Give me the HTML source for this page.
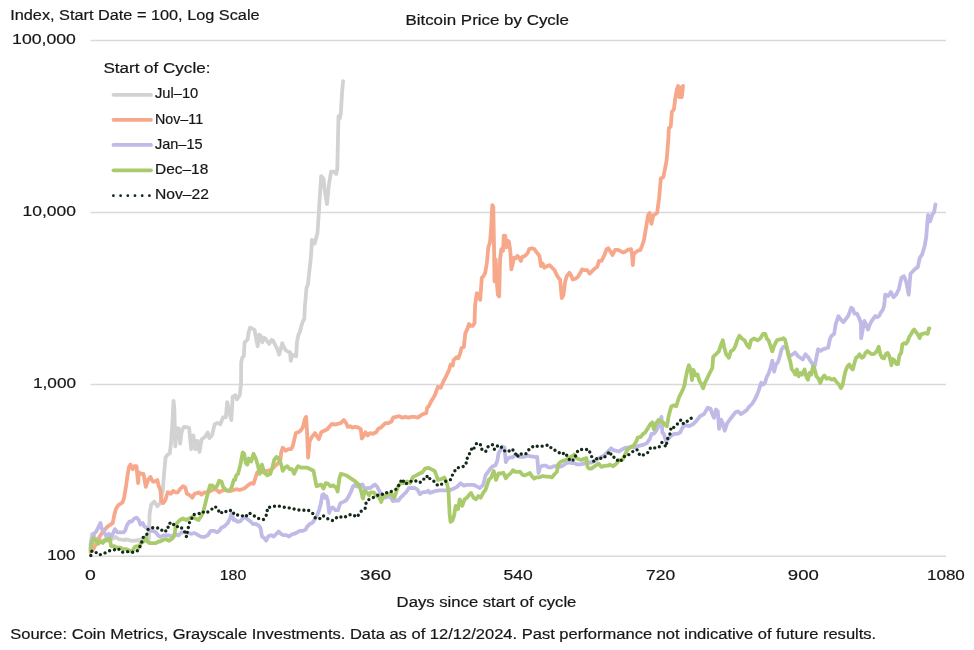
<!DOCTYPE html>
<html><head><meta charset="utf-8"><title>Bitcoin Price by Cycle</title>
<style>html,body{margin:0;padding:0;background:#fff;}body{width:974px;height:650px;overflow:hidden;font-family:"Liberation Sans", sans-serif;}svg{display:block;will-change:transform;}</style>
</head><body>
<svg width="974" height="650" viewBox="0 0 974 650" font-family='"Liberation Sans", sans-serif'>
<line x1="90.5" y1="40.5" x2="946.0" y2="40.5" stroke="#d9d9d9" stroke-width="1.5"/>
<line x1="90.5" y1="212.6" x2="946.0" y2="212.6" stroke="#d9d9d9" stroke-width="1.5"/>
<line x1="90.5" y1="384.4" x2="946.0" y2="384.4" stroke="#d9d9d9" stroke-width="1.5"/>
<line x1="90.5" y1="556.2" x2="946.0" y2="556.2" stroke="#d9d9d9" stroke-width="1.5"/>
<text x="10.2" y="20.1" font-size="15.3" text-anchor="start" textLength="249.4" lengthAdjust="spacingAndGlyphs" fill="#161616" stroke="#161616" stroke-width="0.2">Index, Start Date = 100, Log Scale</text>
<text x="405.4" y="25.1" font-size="14.2" text-anchor="start" textLength="163.6" lengthAdjust="spacingAndGlyphs" fill="#161616" stroke="#161616" stroke-width="0.2">Bitcoin Price by Cycle</text>
<text x="75.9" y="44.1" font-size="15.3" text-anchor="end" textLength="63.8" lengthAdjust="spacingAndGlyphs" fill="#161616" stroke="#161616" stroke-width="0.2">100,000</text>
<text x="76" y="216.2" font-size="15.3" text-anchor="end" textLength="53.4" lengthAdjust="spacingAndGlyphs" fill="#161616" stroke="#161616" stroke-width="0.2">10,000</text>
<text x="76" y="388.0" font-size="15.3" text-anchor="end" textLength="43" lengthAdjust="spacingAndGlyphs" fill="#161616" stroke="#161616" stroke-width="0.2">1,000</text>
<text x="75.4" y="559.8" font-size="15.3" text-anchor="end" textLength="28.2" lengthAdjust="spacingAndGlyphs" fill="#161616" stroke="#161616" stroke-width="0.2">100</text>
<text x="90.4" y="580.2" font-size="15.3" text-anchor="middle" textLength="10.8" lengthAdjust="spacingAndGlyphs" fill="#161616" stroke="#161616" stroke-width="0.2">0</text>
<text x="233.0" y="580.2" font-size="15.3" text-anchor="middle" textLength="26.5" lengthAdjust="spacingAndGlyphs" fill="#161616" stroke="#161616" stroke-width="0.2">180</text>
<text x="375.6" y="580.2" font-size="15.3" text-anchor="middle" textLength="31.2" lengthAdjust="spacingAndGlyphs" fill="#161616" stroke="#161616" stroke-width="0.2">360</text>
<text x="518.1" y="580.2" font-size="15.3" text-anchor="middle" textLength="29.2" lengthAdjust="spacingAndGlyphs" fill="#161616" stroke="#161616" stroke-width="0.2">540</text>
<text x="660.7" y="580.2" font-size="15.3" text-anchor="middle" textLength="29.2" lengthAdjust="spacingAndGlyphs" fill="#161616" stroke="#161616" stroke-width="0.2">720</text>
<text x="803.3" y="580.2" font-size="15.3" text-anchor="middle" textLength="31.0" lengthAdjust="spacingAndGlyphs" fill="#161616" stroke="#161616" stroke-width="0.2">900</text>
<text x="945.9" y="580.2" font-size="15.3" text-anchor="middle" textLength="37.9" lengthAdjust="spacingAndGlyphs" fill="#161616" stroke="#161616" stroke-width="0.2">1080</text>
<text x="396.6" y="607" font-size="15.2" text-anchor="start" textLength="179.8" lengthAdjust="spacingAndGlyphs" fill="#161616" stroke="#161616" stroke-width="0.2">Days since start of cycle</text>
<text x="10.2" y="639.0" font-size="15.3" text-anchor="start" textLength="866" lengthAdjust="spacingAndGlyphs" fill="#161616" stroke="#161616" stroke-width="0.2">Source: Coin Metrics, Grayscale Investments. Data as of 12/12/2024. Past performance not indicative of future results.</text>
<text x="103.4" y="72.5" font-size="14" text-anchor="start" textLength="107" lengthAdjust="spacingAndGlyphs" fill="#161616" stroke="#161616" stroke-width="0.2">Start of Cycle:</text>
<line x1="113.5" y1="94.8" x2="151" y2="94.8" stroke="#d2d2d2" stroke-width="3.8" stroke-linecap="round"/>
<text x="155" y="98" font-size="14.2" text-anchor="start" textLength="43.3" lengthAdjust="spacingAndGlyphs" fill="#161616" stroke="#161616" stroke-width="0.2">Jul–10</text>
<line x1="113.5" y1="119.8" x2="151" y2="119.8" stroke="#f7a88b" stroke-width="3.8" stroke-linecap="round"/>
<text x="155" y="123.5" font-size="14.2" text-anchor="start" textLength="48.1" lengthAdjust="spacingAndGlyphs" fill="#161616" stroke="#161616" stroke-width="0.2">Nov–11</text>
<line x1="113.5" y1="144.9" x2="151" y2="144.9" stroke="#c0bae6" stroke-width="3.8" stroke-linecap="round"/>
<text x="155" y="148.7" font-size="14.2" text-anchor="start" textLength="47.5" lengthAdjust="spacingAndGlyphs" fill="#161616" stroke="#161616" stroke-width="0.2">Jan–15</text>
<line x1="113.5" y1="170.3" x2="151" y2="170.3" stroke="#aacb6c" stroke-width="3.8" stroke-linecap="round"/>
<text x="155" y="174" font-size="14.2" text-anchor="start" textLength="53.3" lengthAdjust="spacingAndGlyphs" fill="#161616" stroke="#161616" stroke-width="0.2">Dec–18</text>
<line x1="113.4" y1="195.7" x2="150" y2="195.7" stroke="#142a18" stroke-width="2.8" stroke-linecap="round" stroke-dasharray="0 7.2"/>
<text x="155" y="199" font-size="14.2" text-anchor="start" textLength="53.9" lengthAdjust="spacingAndGlyphs" fill="#161616" stroke="#161616" stroke-width="0.2">Nov–22</text>
<polyline points="90.5,545.0 92.0,534.0 95.0,538.0 100.0,540.0 106.0,541.0 112.0,539.0 115.8,536.9 118.8,539.2 123.5,540.0 127.0,539.5 131.2,540.8 136.0,540.5 140.4,540.0 143.5,538.0 146.5,540.8 148.8,540.0 149.6,513.8 151.2,504.6 154.2,501.5 157.3,506.2 160.4,503.1 162.7,490.8 164.2,472.3 165.6,457.5 167.7,454.7 169.8,453.4 171.1,442.3 172.5,421.5 173.5,400.8 174.3,407.7 175.3,446.4 176.7,428.4 178.8,428.4 180.1,443.7 181.5,432.6 183.6,427.1 186.0,427.0 189.1,427.8 191.2,449.2 193.3,435.4 195.4,449.2 197.4,440.9 199.5,452.0 201.6,439.5 205.1,436.7 207.8,432.6 209.2,438.1 212.0,435.4 214.7,424.3 217.5,422.9 220.3,424.3 223.0,417.4 225.8,417.4 227.2,402.1 229.3,411.8 231.3,420.1 232.7,396.6 235.5,395.2 236.9,399.4 239.7,395.2 241.0,384.2 241.2,362.3 242.3,357.7 243.8,356.2 244.6,342.3 246.2,340.8 247.7,339.2 248.5,333.1 250.0,327.7 252.3,328.5 254.6,330.0 256.2,339.2 257.7,346.2 259.2,334.6 260.8,336.2 262.3,342.3 263.8,337.7 265.4,338.5 266.9,340.8 269.2,343.8 271.5,340.0 273.1,340.8 275.4,345.4 277.7,350.0 279.2,354.6 280.8,348.5 282.3,343.1 283.8,346.9 285.4,350.0 287.7,351.5 290.0,352.3 290.8,360.8 292.3,354.6 293.8,355.4 296.2,356.2 296.9,342.3 298.5,334.6 300.0,331.5 301.5,325.4 303.1,320.8 304.3,319.2 304.9,305.4 305.5,300.0 306.5,287.7 308.0,284.0 311.2,254.0 311.9,239.9 314.7,243.5 317.5,232.8 318.9,211.6 319.3,204.0 321.2,176.2 323.5,178.5 324.6,190.0 327.0,204.0 328.8,185.5 331.1,171.6 333.9,171.6 336.2,173.9 337.3,169.3 338.5,116.2 339.7,118.5 340.8,113.9 342.0,93.1 343.1,81.1" fill="none" stroke="#d2d2d2" stroke-width="3.8" stroke-linejoin="round" stroke-linecap="round"/>
<polyline points="90.5,552.0 93.5,549.0 96.0,544.0 100.0,536.0 103.5,530.8 108.1,526.2 110.4,524.6 112.7,523.1 114.2,515.4 115.8,509.2 118.1,505.4 120.4,503.8 122.7,502.3 124.2,496.9 125.8,487.7 127.3,476.9 128.8,467.7 130.4,464.6 132.7,469.2 134.2,466.2 136.5,466.2 138.1,483.1 138.8,472.3 141.2,473.8 143.5,473.8 145.8,486.9 148.1,480.0 150.4,476.9 152.7,481.5 155.0,481.5 157.3,480.0 158.8,486.2 160.4,490.0 161.5,501.5 163.1,503.1 165.4,500.0 167.7,492.3 170.8,493.8 173.1,490.8 175.4,492.3 177.7,492.3 180.0,489.2 183.1,486.2 185.4,487.7 186.9,493.8 190.0,495.4 192.3,497.7 194.6,493.8 196.9,493.1 199.2,492.3 201.5,494.6 204.6,492.3 207.7,492.3 210.8,490.8 213.8,489.2 216.9,490.0 219.2,492.3 221.5,490.8 224.6,490.0 227.7,490.8 230.8,490.8 233.8,490.0 236.9,489.2 239.6,490.0 244.2,488.5 248.8,484.6 251.2,483.1 253.5,483.8 255.8,476.9 257.3,472.3 259.6,470.8 262.7,472.3 265.8,470.8 268.8,470.8 271.9,469.2 275.0,466.2 278.1,463.1 280.4,460.0 281.2,452.3 282.7,447.7 285.8,450.8 288.1,449.2 291.2,449.2 292.7,446.2 294.2,440.0 295.8,433.1 298.1,432.3 300.4,430.8 302.7,427.7 305.0,418.5 306.1,416.9 307.0,430.8 308.1,457.7 309.6,441.5 311.9,436.9 315.0,433.1 317.3,436.9 318.8,439.2 321.2,432.3 324.2,430.8 327.3,429.2 330.4,425.4 332.3,423.8 334.6,424.6 337.7,423.8 340.8,423.1 343.8,420.0 346.2,423.1 347.7,426.9 350.0,426.2 352.3,427.7 355.4,426.9 358.5,427.7 360.8,429.2 361.8,438.5 363.1,436.9 365.4,432.3 367.7,435.4 370.0,433.1 373.1,433.8 376.2,432.3 378.5,428.5 380.8,427.7 383.1,425.4 385.4,423.1 388.5,423.1 391.5,421.5 393.1,417.7 396.2,416.9 399.2,416.2 402.3,417.7 405.4,416.9 408.5,417.7 411.5,416.9 414.6,416.9 417.7,417.7 420.8,415.4 423.8,413.8 426.2,413.1 427.2,407.7 428.7,406.3 431.5,400.7 433.3,398.0 435.2,394.3 437.9,386.9 440.7,387.8 443.5,381.3 446.3,375.8 449.0,370.2 450.5,364.7 452.7,365.6 453.6,360.1 456.4,357.3 458.3,358.2 460.1,353.6 461.6,348.1 463.8,347.1 465.3,333.3 467.1,329.6 469.0,324.0 470.8,325.9 472.7,325.9 474.5,323.1 475.1,305.0 476.8,293.1 478.5,294.8 480.2,299.9 481.8,277.9 483.5,276.2 485.2,272.8 486.9,262.7 488.3,247.4 490.0,242.4 491.1,228.8 492.3,205.2 493.3,206.8 494.0,245.8 494.5,281.3 495.7,259.3 496.7,281.3 497.9,294.8 499.1,296.5 500.1,259.3 501.3,249.1 503.0,250.8 503.8,235.6 505.2,235.6 506.4,247.4 507.6,240.7 508.9,241.5 510.3,250.8 511.4,269.4 512.6,264.4 514.0,257.6 515.7,258.4 517.4,255.9 519.1,257.6 520.8,261.0 522.4,256.7 525.0,255.9 527.5,253.4 529.2,249.1 531.7,248.3 534.3,249.1 536.8,252.5 539.4,255.9 541.1,266.1 542.7,263.5 544.4,267.7 547.0,266.1 549.5,265.2 552.1,267.7 554.6,270.3 556.5,274.5 558.4,277.8 560.1,279.5 561.8,298.1 563.5,294.8 565.2,281.2 566.8,276.1 569.4,272.8 571.1,275.3 572.8,279.5 575.3,278.7 577.8,277.0 580.4,272.8 582.1,269.4 584.6,270.2 587.2,270.2 589.7,273.6 592.2,271.1 594.8,268.5 597.3,266.8 599.0,260.9 601.5,260.9 604.1,255.8 606.6,249.1 608.3,248.2 610.0,250.8 612.5,255.0 615.1,249.9 617.6,249.9 620.1,250.8 622.7,252.5 625.2,251.6 627.8,249.9 631.1,249.1 632.0,254.1 632.8,265.1 633.7,254.1 635.4,252.5 637.9,250.8 640.4,249.9 642.1,245.7 643.8,240.6 645.0,233.8 646.4,225.4 648.1,215.2 649.7,213.0 651.4,223.8 653.4,215.4 657.1,213.0 659.1,198.2 660.8,178.5 663.3,177.2 665.0,168.6 666.5,161.2 668.2,141.5 668.9,127.9 670.7,126.7 671.9,111.9 673.9,109.4 675.1,99.6 676.8,89.7 678.1,86.0 679.3,97.1 680.5,87.3 681.8,97.1 683.0,86.0" fill="none" stroke="#f7a88b" stroke-width="3.8" stroke-linejoin="round" stroke-linecap="round"/>
<polyline points="90.5,548.0 91.2,541.5 94.2,533.8 96.5,531.0 98.8,526.2 100.4,523.0 101.9,529.2 103.5,530.8 106.5,536.9 108.8,533.8 111.2,536.9 113.5,532.3 115.0,529.2 117.3,532.3 120.4,532.3 123.5,532.3 125.0,530.8 127.3,524.6 129.6,521.5 132.0,521.5 134.2,518.5 136.5,517.7 138.8,520.0 140.4,524.6 142.7,523.1 144.2,526.2 146.5,527.7 149.6,530.8 152.7,530.8 155.8,532.3 158.1,535.4 160.4,536.9 163.5,535.5 166.2,535.4 169.2,535.4 171.5,536.9 174.6,533.8 178.5,535.4 181.5,532.3 186.0,532.3 190.8,533.8 194.6,533.0 198.5,535.4 201.5,536.9 204.6,536.9 207.7,535.4 210.8,530.8 213.8,530.8 216.9,532.3 219.2,530.8 221.5,527.7 224.6,526.2 227.7,523.1 230.0,518.5 231.5,513.8 233.8,520.0 235.0,519.9 237.8,521.9 240.5,521.2 242.6,518.5 244.7,517.1 247.5,519.2 250.2,521.2 253.0,524.0 255.8,524.0 258.5,525.4 260.6,528.2 262.0,536.5 264.1,537.9 266.2,540.6 268.2,536.5 271.0,535.1 273.8,536.5 276.6,533.7 278.6,531.6 280.7,533.7 283.5,535.1 286.3,535.1 289.0,536.5 291.8,534.4 294.6,533.7 297.3,532.3 300.1,530.9 302.9,530.9 305.6,529.6 307.0,526.8 309.8,524.0 312.6,522.6 315.3,518.5 318.1,512.9 319.5,508.8 320.9,503.2 322.3,494.9 323.6,494.2 325.0,497.7 326.4,496.3 327.8,500.5 329.2,512.9 330.6,508.8 332.8,507.4 335.5,510.2 338.0,510.0 340.4,503.2 343.2,501.9 345.9,500.5 348.0,497.7 350.8,492.2 352.9,486.6 354.2,485.2 357.0,486.6 359.8,485.2 362.5,484.5 364.6,488.7 367.4,488.0 370.2,488.0 372.9,485.9 375.0,484.5 377.1,486.6 379.2,490.8 381.2,494.9 383.3,497.7 385.4,497.7 388.2,496.3 390.9,497.7 393.0,501.2 395.8,500.5 398.5,500.5 400.6,497.7 403.4,494.9 406.2,492.2 408.9,488.0 411.7,488.0 414.5,488.0 417.3,489.4 420.0,494.2 422.8,492.2 425.6,492.2 428.3,490.8 429.8,492.9 434.7,491.2 439.5,490.4 444.4,490.4 449.2,490.4 453.3,488.8 457.3,486.6 460.5,483.2 463.8,485.6 467.0,484.8 470.2,484.8 473.5,484.8 476.7,486.4 479.9,488.0 483.2,484.8 485.6,475.1 488.0,471.8 490.4,468.6 492.9,466.2 495.3,465.4 497.4,460.5 498.5,453.3 500.1,450.8 502.5,446.8 504.5,447.6 505.8,462.2 507.4,458.9 509.8,457.3 513.0,457.3 515.5,454.1 518.7,456.5 520.0,456.9 523.7,456.9 527.4,455.7 531.1,456.3 534.8,456.9 537.2,456.9 538.5,473.0 540.3,466.8 543.4,465.6 545.9,465.6 548.3,467.4 550.8,467.4 553.9,466.2 556.9,466.2 560.0,466.8 563.1,465.6 566.2,463.1 569.3,462.5 571.7,463.1 574.2,463.1 576.7,464.3 580.3,464.3 584.0,463.7 586.5,461.9 589.0,462.5 591.4,462.5 593.9,461.3 596.4,460.0 598.8,458.2 601.3,456.9 603.7,455.7 606.2,453.3 608.7,450.8 611.1,448.3 613.6,450.2 616.2,450.8 619.2,451.5 622.3,449.2 625.4,447.7 628.5,447.7 631.5,446.9 634.6,447.7 637.7,446.2 640.8,445.4 643.8,444.6 646.9,443.1 650.0,438.5 651.5,433.8 653.8,433.8 656.2,430.8 658.5,426.2 660.0,421.5 661.5,416.9 662.3,432.3 663.8,433.8 666.2,441.5 668.5,438.5 671.5,435.4 674.6,433.8 677.7,433.8 680.0,432.6 682.8,427.1 685.5,425.2 689.2,426.1 692.9,424.3 696.6,420.6 700.3,416.0 704.0,414.1 707.7,407.7 710.5,408.6 712.3,414.1 714.1,417.8 716.0,409.5 717.8,411.4 719.1,428.9 721.0,419.7 722.8,423.4 724.7,430.7 727.1,423.4 729.8,419.7 732.6,416.0 735.4,412.3 738.1,411.4 740.9,414.1 743.7,412.3 746.4,410.4 749.2,406.7 752.0,404.0 754.8,399.4 757.5,393.8 759.4,388.3 761.2,382.8 763.1,384.6 764.9,382.8 766.7,377.2 768.6,373.5 770.4,368.0 772.3,360.6 774.1,371.7 776.0,364.3 777.8,362.5 779.7,356.9 781.5,349.5 783.4,346.8 785.2,347.5 786.8,347.5 788.5,353.5 790.2,356.0 792.7,354.3 795.2,352.6 797.8,356.0 800.3,357.7 802.8,359.4 805.4,354.3 807.9,356.8 810.5,361.1 813.0,364.5 814.7,366.1 816.4,357.7 818.1,349.2 820.6,350.9 823.1,349.2 825.7,348.4 828.2,347.5 829.9,339.1 831.6,335.7 834.1,334.0 835.8,323.8 838.4,316.2 840.9,319.6 843.5,322.1 846.0,318.8 848.5,315.4 851.1,307.8 852.8,308.6 854.5,313.7 857.0,313.7 859.5,318.8 860.9,323.8 861.2,338.1 862.5,330.8 864.3,320.9 866.2,324.6 868.0,329.5 869.8,324.6 871.7,320.9 873.5,318.5 875.4,316.0 877.2,317.2 879.1,316.0 880.9,312.3 882.8,309.8 884.0,306.2 884.6,301.2 885.2,294.6 888.3,295.9 890.9,292.0 893.5,297.2 896.1,294.6 898.8,289.3 901.4,277.6 904.0,276.3 906.1,281.5 908.7,294.6 910.5,273.7 913.1,271.0 915.8,268.4 917.8,267.1 919.7,258.0 922.3,254.1 924.9,244.9 926.2,237.1 928.0,214.8 930.1,221.4 932.2,214.8 934.1,212.2 935.4,204.4" fill="none" stroke="#c0bae6" stroke-width="3.8" stroke-linejoin="round" stroke-linecap="round"/>
<polyline points="90.5,550.0 91.2,546.0 93.5,538.5 95.8,540.0 98.1,543.8 100.4,541.5 102.7,543.0 105.0,540.0 107.3,540.0 109.6,538.5 111.2,546.2 114.2,546.2 117.3,547.7 120.4,547.7 123.5,549.2 126.5,549.2 129.6,550.8 132.7,550.8 134.2,547.7 136.5,546.2 138.8,547.7 140.4,543.8 143.5,541.5 145.8,536.9 147.3,541.5 149.6,543.1 152.7,543.1 155.8,543.1 158.8,541.5 160.0,541.5 163.1,540.0 166.2,539.2 169.2,540.8 172.3,538.5 174.6,535.4 175.4,527.7 176.9,523.1 180.0,520.0 183.1,518.5 186.2,520.0 189.2,518.5 192.3,516.9 195.4,518.5 198.5,520.0 200.8,516.9 203.1,512.3 205.4,503.1 206.9,496.9 208.5,490.8 210.0,485.4 212.3,485.4 214.6,488.5 216.9,486.2 219.2,480.8 221.5,481.5 223.1,486.9 226.2,490.0 229.2,490.8 231.5,487.7 233.8,480.0 235.0,480.0 236.2,475.4 238.1,473.8 240.4,464.6 242.7,452.3 244.2,453.8 245.8,463.1 247.3,464.6 248.8,458.5 251.2,461.5 253.5,453.8 255.8,458.5 258.1,466.2 259.6,473.8 261.9,464.6 264.2,472.3 267.3,475.4 270.4,473.8 272.7,466.2 274.2,460.0 276.5,456.9 278.8,458.5 281.2,464.6 282.7,470.8 285.0,467.7 287.3,466.2 289.6,469.2 291.9,469.2 294.2,473.8 296.5,468.5 298.1,466.2 301.2,467.7 304.2,467.7 307.3,467.7 310.4,469.2 313.5,470.8 315.0,478.5 316.5,486.2 318.8,485.4 321.2,484.6 323.5,488.5 325.8,483.1 328.1,483.8 330.4,486.2 333.1,485.4 336.2,487.7 337.6,491.5 339.5,478.0 340.8,474.0 342.5,474.2 346.6,475.5 350.8,478.3 354.9,481.1 359.1,485.2 361.5,492.3 362.5,497.7 363.1,498.5 364.6,490.8 366.9,492.3 369.2,495.4 370.8,492.3 373.5,492.3 376.2,495.4 379.2,497.5 381.2,501.9 383.3,496.3 386.8,494.9 390.9,493.5 394.4,497.7 397.9,486.6 400.8,483.1 403.8,483.1 406.9,481.5 410.0,483.1 413.1,476.9 416.2,475.4 419.2,473.8 422.3,472.3 424.6,469.2 425.0,468.6 428.2,467.8 431.5,469.4 434.7,471.0 436.3,475.1 437.9,479.9 441.2,479.1 444.4,477.5 446.8,483.2 448.4,489.6 449.6,513.9 450.5,521.9 452.5,520.3 454.1,515.5 455.7,505.8 458.1,509.0 459.7,499.3 462.2,505.8 464.6,499.3 467.0,497.7 469.4,494.5 471.0,492.9 473.5,497.7 475.9,499.3 478.3,496.1 480.7,497.7 483.2,492.9 485.6,489.6 487.2,484.8 488.8,479.9 491.2,477.5 493.7,471.0 496.1,479.9 498.5,473.5 500.9,473.5 503.4,472.7 505.8,478.3 508.2,475.1 510.6,473.5 513.0,470.2 515.5,471.8 518.7,471.8 520.0,471.7 522.5,474.8 524.9,475.4 527.4,474.2 529.9,473.0 532.3,476.7 534.2,478.5 536.6,477.3 539.7,477.3 542.8,476.0 545.9,476.7 549.0,476.7 552.0,477.3 554.5,474.2 556.9,471.7 558.2,464.3 560.6,461.9 563.1,460.6 565.6,460.0 568.0,458.8 570.5,456.9 573.0,455.7 574.2,454.5 576.7,458.2 579.1,459.4 581.6,460.0 584.0,458.8 586.5,458.2 587.5,466.8 589.0,468.6 591.4,468.6 593.9,466.8 596.4,465.0 598.8,463.7 601.3,466.8 603.7,466.2 606.2,465.6 608.7,465.6 610.0,464.6 613.1,466.2 616.2,463.8 619.2,460.0 622.3,460.0 625.4,453.8 627.7,449.2 630.8,446.9 633.8,445.4 636.2,441.5 637.7,437.7 640.8,436.9 643.1,433.8 645.4,432.3 647.7,428.5 650.0,424.6 652.3,422.3 653.8,429.2 656.2,423.1 658.5,420.0 660.8,421.5 663.1,422.3 664.6,424.6 666.9,426.2 668.5,416.9 670.0,410.8 671.5,406.2 673.8,405.4 676.2,406.2 677.7,401.5 679.2,396.9 681.5,392.3 683.1,389.2 684.6,384.6 685.5,379.1 687.4,369.8 688.9,365.2 690.7,369.8 692.0,380.0 693.3,369.8 695.7,375.4 697.5,374.4 699.4,380.9 701.2,383.7 703.1,388.3 704.9,382.8 706.8,379.1 709.5,373.5 712.3,368.0 713.2,356.9 716.0,354.1 718.8,351.4 720.6,345.8 722.8,340.3 724.3,347.7 726.1,354.1 728.9,357.8 730.8,351.4 733.5,349.5 735.4,345.8 737.2,340.3 739.4,335.7 741.8,338.5 744.6,340.3 747.4,345.8 749.2,347.7 751.1,340.3 753.8,338.5 757.5,340.3 760.3,338.5 763.1,333.8 765.3,333.8 766.7,338.5 768.6,340.3 770.4,345.8 772.3,351.4 774.1,345.8 776.9,340.3 779.7,339.4 781.7,339.1 783.4,338.2 785.1,339.9 786.8,347.5 788.5,356.0 790.2,361.1 791.8,369.5 793.5,371.2 795.2,374.6 796.9,369.5 798.6,376.3 800.3,372.9 802.0,374.6 804.5,369.5 806.2,376.3 807.9,379.7 809.6,372.9 811.3,374.6 813.0,366.1 814.7,369.5 816.4,376.3 818.6,378.8 820.3,383.1 822.3,378.0 824.3,375.4 826.5,378.8 829.1,378.0 831.6,379.7 834.1,378.8 836.7,382.2 839.2,384.8 840.9,388.1 842.6,384.8 844.3,376.3 846.0,369.5 847.7,366.1 849.4,364.5 851.1,367.8 852.8,369.5 854.5,362.8 856.1,357.7 857.8,356.8 859.5,354.3 861.8,357.8 863.7,356.6 865.5,352.9 867.4,351.0 869.8,352.9 871.7,354.1 873.5,354.1 875.4,352.9 877.2,350.4 878.7,346.7 880.3,354.1 882.1,357.8 884.0,358.4 885.8,354.1 887.7,352.9 889.5,356.6 891.4,365.2 892.6,359.0 894.4,360.3 896.3,364.0 898.1,364.0 899.4,355.4 901.2,352.9 902.4,344.3 904.3,343.1 906.1,343.7 908.0,340.6 909.2,336.9 911.0,334.4 912.9,330.8 914.1,329.5 916.0,332.0 917.8,334.4 919.7,338.1 920.9,334.4 922.7,333.8 925.2,333.2 927.7,333.8 928.9,328.3 929.5,328.3" fill="none" stroke="#aacb6c" stroke-width="3.8" stroke-linejoin="round" stroke-linecap="round"/>
<polyline points="90.8,555.5 91.5,551.0 94.2,553.1 97.3,552.3 100.4,554.6 103.5,553.5 106.5,552.3 109.6,550.8 113.5,550.0 118.1,548.5 121.9,552.3 126.5,551.5 132.7,552.3 137.3,550.8 141.2,544.6 142.7,537.7 146.5,535.4 148.1,529.2 152.7,527.7 156.5,527.7 160.4,528.5 163.4,532.0 167.7,530.0 168.5,523.8 172.0,522.3 175.4,526.9 180.0,526.2 184.3,530.8 186.5,536.9 187.7,530.5 189.2,523.1 191.5,519.2 193.1,514.6 196.2,514.2 199.2,513.5 201.5,511.5 206.2,513.1 210.8,510.0 215.1,506.5 217.7,509.2 220.3,513.8 223.8,510.8 227.7,512.0 231.5,510.0 234.9,515.1 240.5,515.0 245.4,517.1 248.9,512.9 253.0,515.0 255.8,517.1 259.2,518.8 263.4,519.6 266.9,514.3 267.5,507.7 272.4,506.7 277.7,505.7 282.8,507.1 286.5,507.4 292.5,508.5 297.0,509.9 302.9,510.4 307.7,509.9 312.6,513.2 315.6,518.5 321.6,518.5 323.6,516.0 328.5,519.2 332.8,520.6 338.3,516.4 343.9,517.8 348.0,515.3 352.2,514.3 357.0,517.1 360.7,511.6 365.3,508.1 366.3,501.6 370.4,498.4 375.0,497.0 379.2,494.2 383.3,494.2 385.1,492.4 388.2,492.9 392.0,491.1 397.2,488.7 399.9,482.7 402.3,479.0 404.8,484.1 408.7,482.7 412.0,480.8 416.6,481.1 419.8,482.7 423.1,479.0 425.6,479.4 427.6,475.5 430.7,479.9 433.9,481.2 437.9,485.6 441.2,484.5 445.2,481.5 450.5,479.6 453.3,473.1 457.0,467.8 461.8,467.3 465.7,465.1 467.3,458.1 469.4,453.8 472.2,447.6 473.5,449.2 476.7,443.1 480.3,444.1 481.2,448.9 483.5,450.0 485.6,451.7 488.3,446.3 492.5,444.7 494.5,449.6 497.7,445.7 500.6,445.7 502.5,449.2 505.8,451.7 508.2,451.7 511.9,448.9 515.1,452.5 517.1,457.3 519.5,453.3 523.1,454.7 526.8,453.3 528.9,449.6 532.1,447.3 533.8,445.6 539.1,446.5 544.0,445.9 548.3,444.9 552.3,449.1 557.6,451.4 561.3,454.5 565.0,452.6 568.6,458.4 570.5,461.3 574.4,459.2 576.7,452.3 579.7,449.3 584.3,449.8 588.7,449.3 590.8,454.7 594.1,461.9 597.8,457.2 602.3,458.8 606.2,455.7 609.7,451.4 612.1,456.9 615.8,457.6 618.5,461.8 620.8,460.8 625.1,455.7 628.2,455.1 633.4,451.1 636.9,449.5 640.0,455.7 644.6,454.6 647.7,452.6 650.8,447.4 655.4,448.0 658.9,447.4 662.0,442.3 666.2,446.9 667.2,439.7 670.0,433.8 671.2,426.9 673.4,427.7 677.7,423.8 681.1,419.7 683.5,423.8 687.2,421.2 691.2,418.2 694.3,419.2" fill="none" stroke="#142a18" stroke-width="3.4" stroke-linejoin="round" stroke-linecap="round" stroke-dasharray="0 5"/>
</svg>
</body></html>
